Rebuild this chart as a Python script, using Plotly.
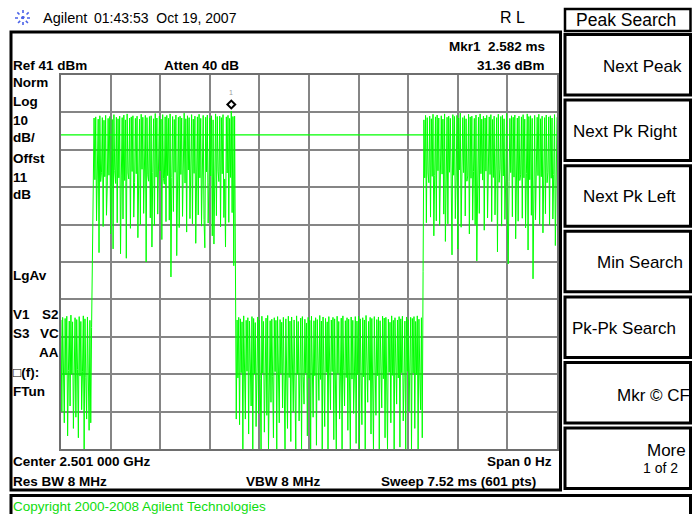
import math
import plotly.graph_objects as go

W, H = 699, 514

sweep_ms = 7.52
n_points = 601
ref_level_dbm = 41
db_per_div = 10
n_div = 10
display_line_dbm = 25
marker_time_ms = 2.582
marker_level_dbm = 31.36

lead_burst_dbm = [
    -24.5, -49.0, -23.8, -38.5, -52.0, -24.1, -39.2, -23.5, -55.5, -38.0,
    -24.8, -47.5, -23.2, -39.0, -25.0, -53.5, -38.6, -23.9, -50.5, -24.4,
    -37.8, -56.0, -23.6, -39.5, -24.9, -48.5, -38.2, -23.4, -59.0, -24.2,
    -39.8, -51.0, -23.7, -38.4, -54.0, -24.6, -52.0, -26.5,
]

dl_burst_1_dbm = [
    -3.5, 5.0, 29.5, 13.0, 29.8, 2.0, 14.5, 29.2, -6.5, 30.1,
    12.5, 15.0, 29.6, 0.5, 28.9, 13.8, 30.2, 3.5, 11.5, 29.4,
    14.2, 29.9, -1.5, 13.0, 29.1, -5.5, 30.4, 15.5, 12.0, 29.7,
    1.5, 29.3, 13.5, 30.0, -6.8, 14.0, 29.6, 2.5, 30.3, 12.8,
    29.0, -8.0, 30.6, 14.8, 13.2, 29.5, 0.0, 29.8, 15.2, 30.1,
    3.0, 12.2, 29.4, 14.6, 30.0, -2.5, 13.4, 29.2, 1.0, 30.5,
    15.8, 29.7, 4.0, 13.1, 30.2, -9.0, 29.6, 14.3, 12.6, 29.9,
    2.8, 30.1, -5.0, 14.9, 29.3, 0.8, 30.7, 13.7, 29.5, 3.8,
    12.9, 30.0, 15.4, 29.2, -3.0, 30.4, 13.3, 11.8, 29.8, 1.8,
    30.2, 14.1, 29.4, 2.2, 30.6, -13.0, 13.6, 29.9, 4.5, 29.1,
    15.0, 30.3, -7.3, 12.4, 29.7, 0.2, 30.0, 14.4, 29.5, 3.2,
    13.9, 30.8, 12.1, 29.3, -1.0, 30.1, 15.6, 29.6, 2.6, 13.0,
    30.4, 1.2, 29.2, 14.7, 30.0, -4.0, 12.7, 29.8, 3.6, 30.5,
    13.5, 29.4, 0.6, 14.2, 30.2, 2.4, -5.2, 29.7, 15.1, 30.3,
    1.4, 12.3, 29.5, 14.0, 30.1, -2.0, 29.0, -4.2, 13.8, 30.6,
    3.4, 29.9, 15.3, 12.5, 30.0, 0.4, 29.6, 14.6, 30.4, 2.9,
    13.2, -5.0, 29.8, 14.8, 30.2, 1.6, 29.4, 13.6, 31.36, 4.2,
    29.9, -10.0, 30.0, -12.0, -51.0,
]

ul_burst_dbm = [
    -24.5, -40.0, -23.8, -52.5, -24.2, -38.6, -25.0, -59.0, -23.4, -39.5, -51.0, -24.6, -38.2, -23.9, -55.0,
    -24.8, -39.8, -47.5, -23.6, -59.0, -24.1, -38.9, -25.2, -53.0, -38.4, -23.7, -49.5, -24.5, -40.2, -59.0,
    -23.5, -38.7, -24.9, -54.5, -39.1, -24.0, -50.0, -23.3, -59.0, -38.5, -24.7, -46.5, -24.3, -39.7, -56.0,
    -23.9, -38.3, -24.6, -59.0, -23.6, -40.5, -52.0, -24.4, -38.8, -25.1, -48.0, -23.8, -39.3, -59.0, -24.2,
    -38.6, -53.5, -23.5, -39.9, -24.8, -57.0, -23.7, -38.1, -49.0, -24.5, -40.8, -59.0, -23.4, -39.0, -24.9,
    -51.5, -38.4, -24.0, -59.0, -23.6, -39.6, -47.0, -24.3, -38.7, -25.3, -55.5, -23.8, -40.1, -24.6, -59.0,
    -23.5, -38.2, -50.5, -24.7, -39.4, -23.9, -58.0, -24.4, -38.9, -46.0, -23.3, -40.4, -24.8, -59.0, -23.7,
    -39.2, -53.0, -24.1, -38.5, -25.0, -59.0, -23.6, -39.8, -48.5, -24.5, -38.3, -23.8, -56.5, -24.2, -40.0,
    -59.0, -23.5, -38.8, -24.9, -51.0, -39.5, -24.0, -59.0, -23.4, -38.1, -47.5, -24.7, -39.9, -23.9, -54.0,
    -24.3, -38.6, -59.0, -23.7, -40.3, -24.6, -49.5, -38.4, -23.6, -57.5, -24.8, -39.1, -23.5, -59.0, -24.2,
    -38.7, -52.5, -23.9, -39.7, -24.5, -59.0, -23.3, -38.2, -46.5, -24.9, -40.6, -23.8, -55.0, -24.1, -39.0,
    -59.0, -23.6, -38.9, -50.0, -24.4, -39.4, -23.7, -59.0, -24.7, -38.3, -48.0, -23.5, -40.2, -24.0, -56.0,
    -23.8, -39.6, -59.0, -24.3, -38.5, -25.1, -52.0, -23.4, -39.3, -24.6, -59.0, -23.9, -38.8, -47.0, -24.5,
    -40.0, -23.6, -58.5, -24.2, -38.6, -23.5, -51.5, -39.8, -24.8, -59.0, -23.7, -38.2, -24.4, -49.0, -39.5,
    -23.8, -59.0, -24.1, -38.7, -23.6, -53.5, -24.9, -39.2, -23.4, -59.0, -24.3, -38.4, -48.5, -23.9, -56.0,
]

dl_burst_2_dbm = [
    -11.5, 29.0, 13.5, 30.2, 1.5, 29.6, 14.8, 12.2, 30.0, 3.0,
    29.3, 13.9, 30.5, -2.0, 14.1, 29.8, 2.0, 30.3, 15.4, 29.5,
    0.8, 12.7, 30.1, 14.5, 29.2, 3.8, 30.6, -3.5, 13.3, 29.7,
    1.2, 30.0, 15.0, 29.4, 12.4, -7.1, 30.4, 14.2, 29.9, 2.6,
    13.7, 30.2, -5.5, 29.5, 15.6, 30.8, 0.3, 13.0, 29.6, 14.9,
    30.1, 3.3, 29.3, 12.6, 14.0, 30.5, -1.5, 29.8, 13.4, 30.0,
    2.2, 15.2, 29.4, 1.0, 30.3, -8.7, 13.8, 29.7, 4.0, 30.6,
    14.6, 29.2, 12.9, 30.0, -0.5, 29.5, 15.3, 30.2, 2.8, 13.1,
    29.8, 14.4, 30.4, 1.8, 29.1, 13.6, 30.0, 3.6, 14.7, 29.6,
    -6.3, 30.5, 12.3, 15.8, 29.9, 0.6, 30.2, 14.0, 29.3, 2.4,
    13.2, 30.7, 1.4, -9.5, 12.5, 29.4, 14.9, 30.1, 3.1, 29.7,
    13.7, 30.3, -2.8, 15.1, 29.5, 1.9, 30.0, 12.8, 14.3, 29.8,
    2.7, 30.4, 13.5, 29.2, 0.1, 14.6, 30.6, -5.8, 29.9, 13.0,
    30.1, 3.5, 29.4, -13.5, 15.5, 30.2, 2.3, 12.6, 29.7, 14.1,
    30.5, 1.1, 29.3, 13.8, 30.0, -1.2, 14.8, 29.6, 3.9, 30.3,
    12.2, 15.0, 29.8, 0.9, 30.1, 13.4, 29.5, 2.5, 14.4, 30.4,
    -4.6, 13.1, 29.7,
]

trace_dbm = lead_burst_dbm + dl_burst_1_dbm + ul_burst_dbm + dl_burst_2_dbm
assert len(trace_dbm) == n_points, len(trace_dbm)
time_ms = [i * sweep_ms / (n_points - 1) for i in range(n_points)]

softkeys = ["Next Peak", "Next Pk Right", "Next Pk Left", "Min Search",
            "Pk-Pk Search", "Mkr \u00a9 CF", "More"]

# ---------------- helpers ----------------
def X(px):
    return px / W


def Y(py):
    return 1 - py / H


FONT = "Liberation Sans, Arial, sans-serif"
shapes = []
annotations = []


def rect(x0, y0, x1, y1, w=3, color="black"):
    shapes.append(dict(type="rect", xref="paper", yref="paper",
                       x0=X(x0), x1=X(x1), y0=Y(y1), y1=Y(y0),
                       line=dict(color=color, width=w),
                       fillcolor="rgba(0,0,0,0)", layer="above"))


def text(t, x, y, anchor="left", size=13.5, bold=True, color="black"):
    annotations.append(dict(text=("<b>%s</b>" % t) if bold else t,
                            xref="paper", yref="paper", x=X(x), y=Y(y),
                            xanchor=anchor, yanchor="middle", showarrow=False,
                            borderpad=0, borderwidth=0,
                            font=dict(family=FONT, size=size, color=color)))


fig = go.Figure()

fig.add_trace(go.Scatter(x=time_ms, y=trace_dbm, mode="lines",
                         line=dict(color="#00ff00", width=1),
                         hoverinfo="skip", showlegend=False))

# marker 1 (diamond drawn just above the peak)
fig.add_trace(go.Scatter(x=[marker_time_ms], y=[marker_level_dbm], mode="markers",
                         marker=dict(symbol="diamond-open", size=6, color="black",
                                     line=dict(width=2, color="black"),
                                     angle=180, standoff=6.5),
                         hoverinfo="skip", showlegend=False))
annotations.append(dict(text="1", x=marker_time_ms, y=marker_level_dbm,
                        xref="x", yref="y", yshift=19, showarrow=False,
                        font=dict(family=FONT, size=7, color="#9a9a9a")))

# display line
shapes.append(dict(type="line", xref="x domain", yref="y", x0=0, x1=1,
                   y0=display_line_dbm, y1=display_line_dbm,
                   line=dict(color="#00ff00", width=1.2), layer="above"))

# ---------------- frames & softkeys ----------------
rect(11, 32, 560.5, 490, w=3)                  # main display frame
rect(565, 9, 690.5, 31, w=2.5)                 # "Peak Search" title box
for i in range(7):
    top = 34.5 + 65.6 * i
    rect(565, top, 690.5, top + 60.5, w=3)
rect(11, 495.5, 690.5, 530, w=3)               # copyright bar

# Agilent logo (starburst)
cx, cy, r = 23, 18, 8
for k in range(4):
    a = k * math.pi / 4
    shapes.append(dict(type="line", xref="paper", yref="paper",
                       x0=X(cx - r * math.cos(a)), y0=Y(cy - r * math.sin(a)),
                       x1=X(cx + r * math.cos(a)), y1=Y(cy + r * math.sin(a)),
                       line=dict(color="#4a62e8", width=1.6, dash="dot")))

# ---------------- texts ----------------
text("Agilent", 43, 18, size=14.5, bold=False)
text("01:43:53\u00a0\u00a0Oct 19, 2007", 94, 18, size=14, bold=False)
text("R\u00a0L", 500, 17.5, size=16, bold=False)
text("Peak Search", 576, 20, size=17.5, bold=False)

text("Ref 41 dBm", 13, 65)
text("Atten 40 dB", 164, 65)
text("Mkr1\u00a0\u00a02.582 ms", 545, 46, anchor="right")
text("31.36 dBm", 545, 65, anchor="right")
for label, yy in [("Norm", 82), ("Log", 102), ("10", 120), ("dB/", 138),
                  ("Offst", 158), ("11", 177), ("dB", 194), ("LgAv", 275),
                  ("V1", 314), ("S3", 333), ("\u25a1(f):", 372), ("FTun", 391)]:
    text(label, 13, yy)
text("S2", 42, 314)
text("VC", 40, 333)
text("AA", 39, 352)
text("Center 2.501 000 GHz", 13, 461)
text("Res BW 8 MHz", 13, 481)
text("VBW 8 MHz", 246, 481)
text("Sweep 7.52 ms (601 pts)", 536, 481, anchor="right")
text("Span 0 Hz", 552, 461, anchor="right")

softkey_right = [682, 677, 676, 683, 676, 690, 686]
softkey_y = [67, 131.5, 197, 262.5, 328, 395, 450.5]
for lab, xr, yy in zip(softkeys, softkey_right, softkey_y):
    text(lab, xr, yy, anchor="right", size=17, bold=False)
text("1 of 2", 678, 468, anchor="right", size=14, bold=False)

text("Copyright 2000-2008 Agilent Technologies", 13, 506, size=13.5,
     bold=False, color="#0fdc0f")

# ---------------- axes ----------------
grid = "#858585"
fig.update_layout(
    width=W, height=H, autosize=False,
    margin=dict(l=0, r=0, t=0, b=0),
    paper_bgcolor="white", plot_bgcolor="white",
    showlegend=False,
    xaxis=dict(domain=[X(61), X(557)], range=[0, sweep_ms],
               tick0=0, dtick=sweep_ms / n_div, showgrid=True,
               gridcolor=grid, gridwidth=2, showticklabels=False, ticks="",
               zeroline=False, showline=True, linecolor="#6e6e6e",
               linewidth=2, mirror=True, fixedrange=True),
    yaxis=dict(domain=[Y(449), Y(75)],
               range=[ref_level_dbm - n_div * db_per_div, ref_level_dbm],
               tick0=ref_level_dbm, dtick=db_per_div, showgrid=True,
               gridcolor=grid, gridwidth=2, showticklabels=False, ticks="",
               zeroline=False, showline=True, linecolor="#6e6e6e",
               linewidth=2, mirror=True, fixedrange=True),
    shapes=shapes,
    annotations=annotations,
)

fig.write_html("out.html", config={"displayModeBar": False})
